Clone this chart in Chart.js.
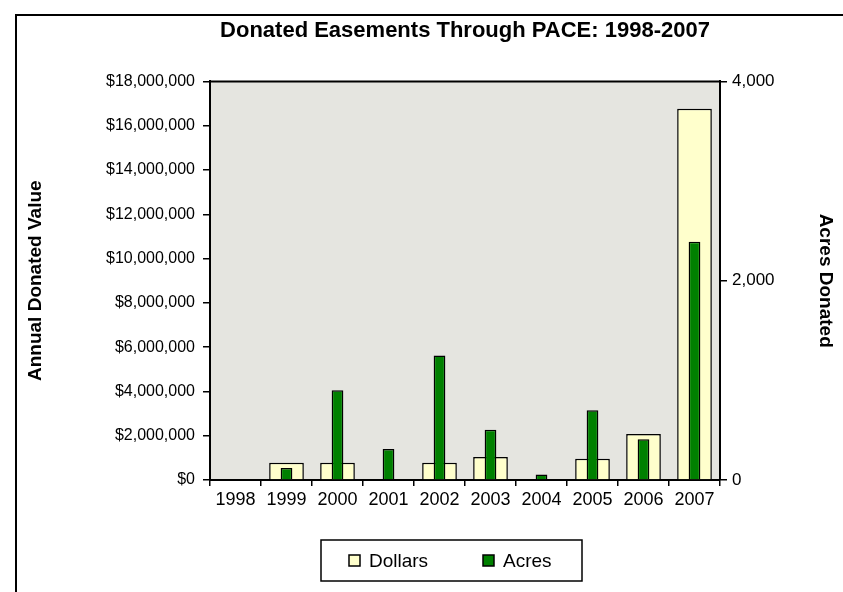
<!DOCTYPE html>
<html>
<head>
<meta charset="utf-8">
<script src="https://cdn.jsdelivr.net/npm/chart.js@4"></script>
<style>
    html, body { margin: 0; padding: 0; background: #fff; }
    #wrap { width: 843px; height: 592px; }
</style>
</head>
<body>
<div id="wrap"><canvas id="paceChart" width="843" height="592"></canvas></div>
<script>
// values
const years = ["1998", "1999", "2000", "2001", "2002", "2003", "2004", "2005", "2006", "2007"];
const dollars = [0, 780000, 780000, 0, 780000, 1040000, 0, 960000, 2080000, 16770000];
const acres = [0, 120, 900, 310, 1250, 505, 55, 700, 410, 2390];
const seriesNames = ["Dollars", "Acres"];
const seriesColors = ["#ffffcc", "#008000"];

const FONT = "'Liberation Sans', Arial, sans-serif";
Chart.defaults.font.family = FONT;
Chart.defaults.color = "#000";

// grey plot area, outer frame and top edge of the plot
const frame = {
    id: "frame",
    beforeDraw(chart) {
        const { ctx, chartArea: a } = chart;
        ctx.save();
        ctx.fillStyle = "#e5e5e0";
        ctx.fillRect(a.left, a.top, a.right - a.left, a.bottom - a.top);
        ctx.lineWidth = 2;
        ctx.strokeStyle = "#000";
        ctx.strokeRect(16, 15, 900, 700);
        ctx.restore();
    },
    afterDraw(chart) {
        const { ctx, chartArea: a } = chart;
        ctx.save();
        ctx.lineWidth = 2;
        ctx.strokeStyle = "#000";
        ctx.beginPath();
        ctx.moveTo(a.left, a.top);
        ctx.lineTo(a.right, a.top);
        ctx.stroke();
        ctx.restore();
    }
};

// boxed legend under the axis, like the Excel one
const boxLegend = {
    id: "boxLegend",
    afterDraw(chart) {
        const ctx = chart.ctx;
        const x0 = 321, y0 = 540, w = 261, h = 41;
        const cy = y0 + h / 2;
        ctx.save();
        ctx.lineWidth = 1.5;
        ctx.strokeStyle = "#000";
        ctx.strokeRect(x0, y0, w, h);
        ctx.font = "19px " + FONT;
        ctx.textBaseline = "middle";
        let x = x0 + 28;
        chart.data.datasets.forEach(ds => {
            ctx.fillStyle = ds.backgroundColor;
            ctx.fillRect(x, cy - 5.5, 11, 11);
            ctx.strokeRect(x, cy - 5.5, 11, 11);
            ctx.fillStyle = "#000";
            ctx.fillText(ds.label, x + 20, cy + 1);
            x += 134;
        });
        ctx.restore();
    }
};

const tickGrid = {
    drawOnChartArea: false,
    drawTicks: true,
    color: "#000",
    lineWidth: 1.5
};

new Chart(document.getElementById("paceChart"), {
    type: "bar",
    data: {
        labels: years,
        datasets: [{
            label: seriesNames[0],
            data: dollars,
            yAxisID: "y",
            backgroundColor: seriesColors[0],
            borderColor: "#000",
            borderWidth: 1.5,
            barPercentage: 0.68,
            categoryPercentage: 1,
            grouped: false,
            order: 1
        }, {
            label: seriesNames[1],
            data: acres,
            yAxisID: "y1",
            backgroundColor: seriesColors[1],
            borderColor: "#000",
            borderWidth: 1.5,
            barPercentage: 0.23,
            categoryPercentage: 1,
            grouped: false,
            order: 0
        }]
    },
    options: {
        responsive: false,
        animation: false,
        layout: { padding: { left: 17, right: 0, top: 0, bottom: 72 } },
        plugins: {
            legend: { display: false },
            tooltip: { enabled: false },
            title: {
                display: true,
                fullSize: false,
                text: "Donated Easements Through PACE: 1998-2007",
                font: { size: 22, weight: "bold" },
                padding: { top: 18, bottom: 37 }
            }
        },
        scales: {
            x: {
                grid: { ...tickGrid, offset: true, tickLength: 6 },
                border: { display: true, color: "#000", width: 2 },
                ticks: { font: { size: 18 }, padding: 3, maxRotation: 0, autoSkip: false },
                afterFit: s => { s.height = 40; }
            },
            y: {
                position: "left",
                min: 0,
                max: 18000000,
                grid: { ...tickGrid, tickLength: 7 },
                border: { display: true, color: "#000", width: 2 },
                ticks: {
                    stepSize: 2000000,
                    font: { size: 16 },
                    padding: 8,
                    callback: v => "$" + v.toLocaleString("en-US")
                },
                title: {
                    display: true,
                    text: "Annual Donated Value",
                    font: { size: 19, weight: "bold" },
                    padding: { top: 7, bottom: 0 }
                },
                afterFit: s => { s.width = 193; }
            },
            y1: {
                position: "right",
                min: 0,
                max: 4000,
                grid: { ...tickGrid, tickLength: 7 },
                border: { display: true, color: "#000", width: 2 },
                ticks: {
                    stepSize: 2000,
                    font: { size: 17 },
                    padding: 5,
                    callback: v => v.toLocaleString("en-US")
                },
                title: {
                    display: true,
                    text: "Acres Donated",
                    font: { size: 19, weight: "bold" },
                    padding: { top: 6, bottom: 0 }
                },
                afterFit: s => { s.width = 123; }
            }
        }
    },
    plugins: [frame, boxLegend]
});
</script>
</body>
</html>
